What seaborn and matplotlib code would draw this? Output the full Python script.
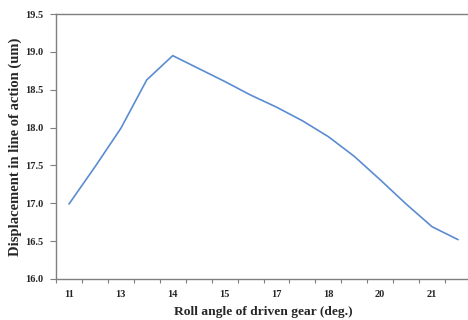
# Displacement in line of action vs roll angle of driven gear
import numpy as np
import pandas as pd
import matplotlib
matplotlib.use("Agg")
import matplotlib.pyplot as plt
import seaborn as sns

## Data (one value per category on the x axis)
category = list(range(16))
displacement = [16.99, 17.48, 17.99, 18.63, 18.95, 18.78, 18.61, 18.43,
                18.27, 18.09, 17.88, 17.62, 17.31, 16.99, 16.69, 16.52]
# only every other category is labelled on the original axis
tick_labels = ["11", "13", "14", "15", "17", "18", "20", "21"]

line_color = "#5B8CD2"
axis_color = "#7F7F7F"

df = pd.DataFrame({"pos": [c + 0.5 for c in category], "disp": displacement})

sns.set_style("white")
plt.rcParams["font.family"] = ["Liberation Serif", "DejaVu Serif"]
plt.rcParams["font.weight"] = "bold"

fig = plt.figure(figsize=(4.68, 3.2), dpi=100)
ax = fig.add_axes([56/468, 41/320, 415/468, 265/320])

sns.lineplot(data=df, x="pos", y="disp", color=line_color, linewidth=1.2, ax=ax)

# category axis: tick marks between categories, labels on every second one
ax.set_xlim(0, len(category))
ax.set_xticks(np.arange(0, len(category) + 1))
ax.set_xticklabels([])
ax.set_xticks(np.arange(0.5, len(category), 2), minor=True)
ax.set_xticklabels(tick_labels, minor=True)
ax.tick_params(axis="x", which="major", direction="out", length=3, width=0.8,
               color=axis_color, bottom=True)
ax.tick_params(axis="x", which="minor", length=0, pad=8, labelsize=7.5)

ax.set_ylim(16.0, 19.5)
ax.set_yticks(np.arange(16.0, 19.51, 0.5))
ax.set_yticklabels([f"{v:.1f}" for v in np.arange(16.0, 19.51, 0.5)])
ax.tick_params(axis="y", direction="out", length=4, width=0.8, color=axis_color,
               left=True, labelsize=7.5, pad=5)

for side in ["left", "bottom", "top"]:
    ax.spines[side].set_color(axis_color)
    ax.spines[side].set_linewidth(1.0)
ax.spines["right"].set_visible(False)

ax.set_xlabel("Roll angle of driven gear (deg.)", fontsize=9.7, fontweight="bold", labelpad=5)
ax.set_ylabel("Displacement in line of action (um)", fontsize=10.5, fontweight="bold", labelpad=2)

fig.savefig("out.png", dpi=100)
plt.close(fig)
